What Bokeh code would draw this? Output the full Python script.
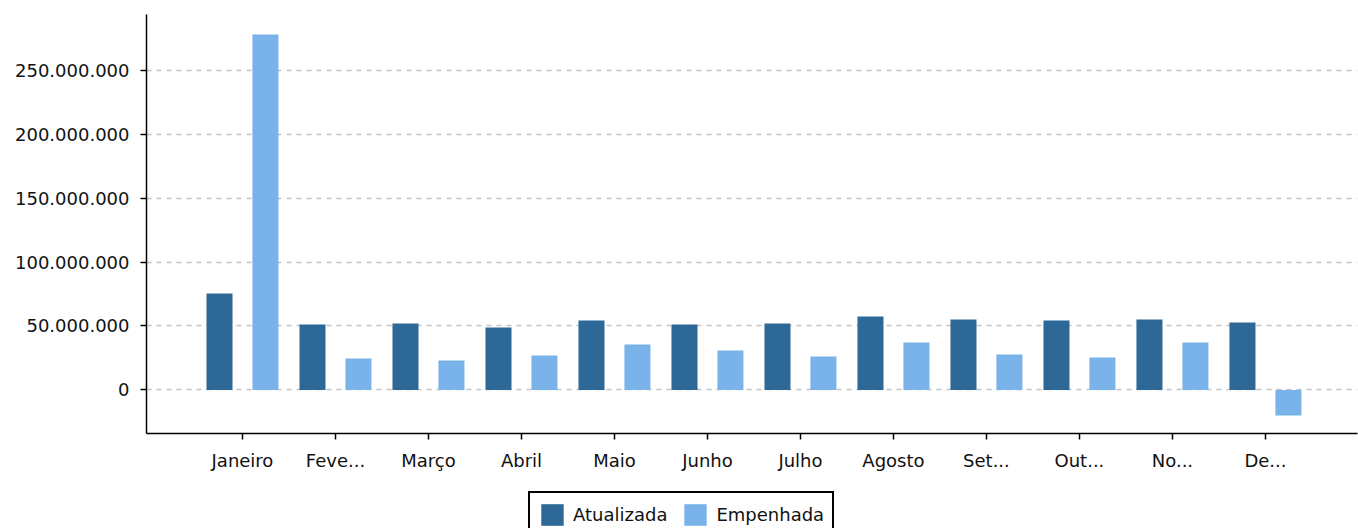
from bokeh.plotting import figure
from bokeh.layouts import column
from bokeh.models import (ColumnDataSource, Range1d, FixedTicker, Legend, LegendItem,
                          CustomJSTickFormatter)
from bokeh.transform import dodge
from bokeh.embed import file_html
from bokeh.resources import INLINE

months = ["Janeiro", "Feve...", "Março", "Abril", "Maio", "Junho", "Julho",
          "Agosto", "Set...", "Out...", "No...", "De..."]
atualizada = [75.4e6, 51.2e6, 52.0e6, 48.8e6, 54.3e6, 51.2e6, 52.0e6,
              57.4e6, 55.0e6, 54.3e6, 55.0e6, 52.7e6]
empenhada = [277.7e6, 24.6e6, 23.0e6, 27.0e6, 35.5e6, 30.9e6, 26.2e6,
             37.1e6, 27.7e6, 25.4e6, 37.1e6, -19.9e6]
series_names = ["Atualizada", "Empenhada"]
y_ticks = [0, 50e6, 100e6, 150e6, 200e6, 250e6]

DARK = "#2e6897"
LIGHT = "#7ab3ea"
FONT = "DejaVu Sans"

x = list(range(len(months)))
src = ColumnDataSource(dict(x=x, a=atualizada, e=empenhada))

p = figure(width=1358, height=480, output_backend="svg", toolbar_location=None,
           x_range=Range1d(-1.032, 11.99), y_range=Range1d(-34e6, 293.4e6),
           min_border_left=146, min_border_right=1, min_border_top=14,
           min_border_bottom=47)
p.outline_line_color = None
p.background_fill_color = "white"
p.border_fill_color = "white"

ra = p.vbar(x=dodge("x", -0.247, range=p.x_range), top="a", bottom=0, width=0.28,
            source=src, fill_color=DARK, line_color=None)
re = p.vbar(x=dodge("x", 0.247, range=p.x_range), top="e", bottom=0, width=0.28,
            source=src, fill_color=LIGHT, line_color=None)

p.xgrid.visible = False
p.ygrid.ticker = FixedTicker(ticks=y_ticks)
p.ygrid.grid_line_color = "#c4c4c4"
p.ygrid.grid_line_dash = "5 5"
p.ygrid.grid_line_width = 1.5

xa = p.xaxis[0]
xa.ticker = FixedTicker(ticks=x)
xa.major_label_overrides = {i: m for i, m in enumerate(months)}
ya = p.yaxis[0]
ya.ticker = FixedTicker(ticks=y_ticks)
ya.formatter = CustomJSTickFormatter(
    code="return Math.round(tick).toString().replace(/\\B(?=(\\d{3})+(?!\\d))/g, '.');")

for ax in (xa, ya):
    ax.axis_line_color = "black"
    ax.axis_line_width = 1.5
    ax.major_tick_line_color = "black"
    ax.major_tick_line_width = 1.5
    ax.major_tick_in = 0
    ax.major_tick_out = 6
    ax.minor_tick_line_color = None
    ax.major_label_text_font = FONT
    ax.major_label_text_font_size = "18px"
    ax.major_label_text_color = "#111111"
xa.major_label_standoff = 10
ya.major_label_standoff = 11

# legend strip below the chart (same series; its y range keeps the bars out of view)
lg = figure(width=1358, height=48, output_backend="svg", toolbar_location=None,
            x_range=Range1d(-1.032, 11.99), y_range=Range1d(1e12, 2e12),
            min_border_left=146, min_border_right=1, min_border_top=0,
            min_border_bottom=0, x_axis_type=None, y_axis_type=None)
lg.outline_line_color = None
lg.grid.visible = False
la = lg.vbar(x="x", top="a", bottom=0, width=0.28, source=src,
             fill_color=DARK, line_color=None)
le = lg.vbar(x="x", top="e", bottom=0, width=0.28, source=src,
             fill_color=LIGHT, line_color=None)

legend = Legend(items=[LegendItem(label=series_names[0], renderers=[la]),
                       LegendItem(label=series_names[1], renderers=[le])],
                orientation="horizontal", location=(382, -10))
legend.label_text_font = FONT
legend.label_text_font_size = "18px"
legend.label_text_color = "#111111"
legend.glyph_width = 28
legend.glyph_height = 27
legend.label_standoff = 7
legend.spacing = 14
legend.padding = 8
legend.margin = 0
legend.border_line_color = "black"
legend.border_line_alpha = 1.0
legend.border_line_width = 2
legend.background_fill_alpha = 1
lg.add_layout(legend, "center")

open("out.html", "w").write(file_html(column(p, lg, spacing=0), INLINE))
